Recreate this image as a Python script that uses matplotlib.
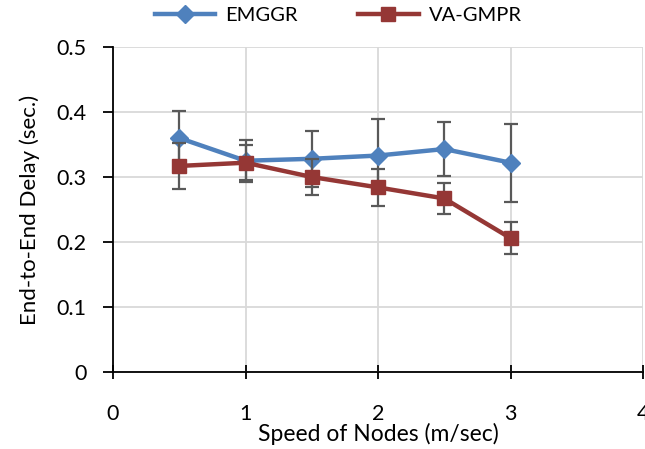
import numpy as np
import matplotlib.pyplot as plt
from matplotlib.lines import Line2D

plt.rcParams['font.family'] = ['Lato', 'DejaVu Sans']

speed = [0.5, 1.0, 1.5, 2.0, 2.5, 3.0]
emggr = [0.360, 0.325, 0.328, 0.333, 0.343, 0.322]
emggr_err = [0.042, 0.032, 0.043, 0.057, 0.041, 0.060]
vagmpr = [0.317, 0.322, 0.300, 0.284, 0.267, 0.206]
vagmpr_err = [0.035, 0.027, 0.027, 0.029, 0.024, 0.025]

blue = '#4F81BD'
red = '#953735'

fig = plt.figure(figsize=(6.45, 4.49), dpi=100)
ax = fig.add_axes([113/645, 1 - 372/449, 530/645, 325/449])

ax.errorbar(speed, emggr, yerr=emggr_err, color=blue, lw=3.2,
            marker='D', ms=9, ecolor='#595959', elinewidth=1.6, capsize=5,
            capthick=1.6, zorder=3)
ax.errorbar(speed, vagmpr, yerr=vagmpr_err, color=red, lw=3.2,
            marker='s', ms=10.5, ecolor='#595959', elinewidth=1.6, capsize=5,
            capthick=1.6, zorder=4)

ax.set_xlim(0, 4)
ax.set_ylim(0, 0.5)
ax.set_xticks([0, 1, 2, 3, 4])
ax.set_yticks(np.arange(0, 0.51, 0.1))
ax.set_yticklabels(['0', '0.1', '0.2', '0.3', '0.4', '0.5'])
ax.grid(True, color='#D9D9D9', lw=1.3)
ax.set_axisbelow(True)
for s in ['top', 'right']:
    ax.spines[s].set_visible(False)
ax.spines['left'].set_linewidth(1.3)
ax.spines['bottom'].set_linewidth(1.3)
ax.tick_params(axis='x', direction='inout', length=10, width=1.3, pad=18, labelsize=15.5)
ax.tick_params(axis='y', direction='out', length=7, width=1.3, pad=12, labelsize=15.5)

ax.set_xlabel('Speed of Nodes (m/sec)', fontsize=16.5, labelpad=-1)
ax.set_ylabel('End-to-End Delay (sec.)', fontsize=16, labelpad=12)

handles = [Line2D([], [], color=blue, lw=3.2, marker='D', ms=9),
           Line2D([], [], color=red, lw=3.2, marker='s', ms=10.5)]
ax.legend(handles, ['EMGGR', 'VA-GMPR'], loc='center', bbox_to_anchor=(0.425, 1 + 32/325),
          ncol=2, frameon=False, fontsize=14.5, handlelength=3.0, handletextpad=0.5,
          columnspacing=3.0)

fig.savefig('out.png', dpi=100)
